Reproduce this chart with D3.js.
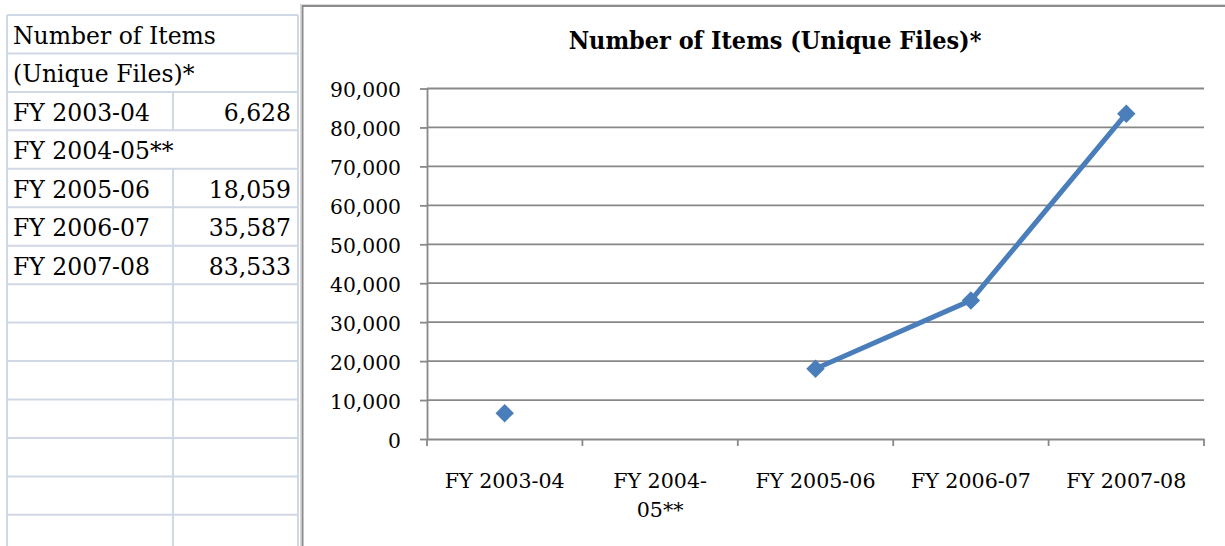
<!DOCTYPE html>
<html>
<head>
<meta charset="utf-8">
<script src="https://cdn.jsdelivr.net/npm/d3@7"></script>
<style>
  html, body { margin: 0; padding: 0; background: #fff; }
  svg { display: block; }
</style>
</head>
<body>
<svg id="chart" width="1225" height="546"></svg>
<script>
// ---- data ----
const categories = ["FY 2003-04", "FY 2004-05**", "FY 2005-06", "FY 2006-07", "FY 2007-08"];
const values = [6628, null, 18059, 35587, 83533];
const yTicks = [0, 10000, 20000, 30000, 40000, 50000, 60000, 70000, 80000, 90000];
const tableTitleLines = ["Number of Items", "(Unique Files)*"];
const chartTitle = "Number of Items (Unique Files)*";

// ---- layout ----
const W = 1225, H = 546;
const svg = d3.select("#chart");
const FONT = "'DejaVu Serif', 'Liberation Serif', serif";
const gridColor = "#888888";
const seriesColor = "#4a7ebb";

// ---------- spreadsheet table on the left ----------
const tbl = { left: 7, mid: 173, right: 298, top: 15, rowH: 38.45, rows: 14 };
const tableRows = [
  { label: tableTitleLines[0], span: true },
  { label: tableTitleLines[1], span: true }
].concat(categories.map((c, i) => ({ label: c, value: values[i], span: values[i] == null })));
while (tableRows.length < tbl.rows) tableRows.push({ label: "", span: false });

const tg = svg.append("g");
const lineCol = "#d0d7e5";
tg.selectAll("line.h").data(d3.range(tbl.rows + 1)).join("line")
  .attr("x1", tbl.left).attr("x2", tbl.right)
  .attr("y1", i => tbl.top + i * tbl.rowH).attr("y2", i => tbl.top + i * tbl.rowH)
  .attr("stroke", lineCol).attr("stroke-width", 2);
[tbl.left, tbl.right].forEach(xx => {
  tg.append("line").attr("x1", xx).attr("x2", xx).attr("y1", tbl.top).attr("y2", H)
    .attr("stroke", lineCol).attr("stroke-width", 2);
});
tableRows.forEach((r, i) => {
  if (!r.span) {
    tg.append("line").attr("x1", tbl.mid).attr("x2", tbl.mid)
      .attr("y1", tbl.top + i * tbl.rowH).attr("y2", tbl.top + (i + 1) * tbl.rowH)
      .attr("stroke", lineCol).attr("stroke-width", 2);
  }
});
const fmt = d3.format(",");
tableRows.forEach((r, i) => {
  const base = tbl.top + i * tbl.rowH + 29;
  if (r.label) {
    tg.append("text").attr("x", 13).attr("y", base)
      .attr("font-family", FONT).attr("font-size", 23.5).attr("fill", "#000")
      .text(r.label);
  }
  if (r.value != null) {
    tg.append("text").attr("x", 291).attr("y", base).attr("text-anchor", "end")
      .attr("font-family", FONT).attr("font-size", 23.5).attr("fill", "#000")
      .text(fmt(r.value));
  }
});

// ---------- chart frame ----------
svg.append("rect").attr("x", 300.5).attr("y", 4.5).attr("width", 1000).attr("height", 600)
  .attr("fill", "none").attr("stroke", "#d9d9d9").attr("stroke-width", 1);
svg.append("rect").attr("x", 302.5).attr("y", 6).attr("width", 1000).attr("height", 600)
  .attr("fill", "#fff").attr("stroke", "#8c8c8c").attr("stroke-width", 2);

// ---------- chart ----------
const plot = { left: 427, right: 1204, top: 88.5, bottom: 439 };
const x = d3.scaleBand().domain(categories).range([plot.left, plot.right]).padding(0);
const y = d3.scaleLinear().domain([0, 90000]).range([plot.bottom, plot.top]);

const cg = svg.append("g");

const title = cg.append("text").attr("x", 775).attr("y", 49.5).attr("text-anchor", "middle")
  .attr("font-family", FONT).attr("font-weight", "bold").attr("font-size", 24.5).attr("fill", "#000")
  .text(chartTitle);
function fitX(sel, target) {
  sel.each(function () {
    const w = this.getComputedTextLength();
    const s = target / w;
    const tx = +this.getAttribute("x"), ty = +this.getAttribute("y");
    this.setAttribute("transform", `translate(${tx},${ty}) scale(${s},1) translate(${-tx},${-ty})`);
  });
}
fitX(title, 413);

cg.append("g").selectAll("line").data(yTicks.filter(d => d > 0)).join("line")
  .attr("x1", plot.left).attr("x2", plot.right)
  .attr("y1", d => y(d)).attr("y2", d => y(d))
  .attr("stroke", gridColor).attr("stroke-width", 1.8);

const yAxis = cg.append("g").attr("transform", `translate(${plot.left},0)`)
  .call(d3.axisLeft(y).tickValues(yTicks).tickSize(7).tickSizeOuter(0).tickFormat(fmt));
yAxis.select(".domain").attr("stroke", gridColor).attr("stroke-width", 1.8);
yAxis.selectAll(".tick line").attr("stroke", gridColor).attr("stroke-width", 1.8);
yAxis.selectAll(".tick text").attr("x", -26).attr("dy", null).attr("y", 8)
  .attr("font-family", FONT).attr("font-size", 20.3).attr("fill", "#000");

const xAxis = cg.append("g").attr("transform", `translate(0,${plot.bottom})`)
  .call(d3.axisBottom(x).tickSize(0).tickSizeOuter(0));
xAxis.select(".domain").attr("stroke", gridColor).attr("stroke-width", 1.8);
xAxis.selectAll(".tick text").attr("y", 49).attr("dy", null)
  .attr("font-family", FONT).attr("font-size", 20.6).attr("fill", "#000");
const bounds = categories.map(c => x(c)).concat([x.range()[1]]);
xAxis.append("g").selectAll("line").data(bounds).join("line")
  .attr("x1", d => d).attr("x2", d => d).attr("y1", 0).attr("y2", 7)
  .attr("stroke", gridColor).attr("stroke-width", 1.8);
xAxis.selectAll(".tick text").each(function (d) {
  const t = d3.select(this);
  if (this.getComputedTextLength() > x.bandwidth() * 0.85) {
    const idx = d.lastIndexOf("-");
    const a = d.slice(0, idx + 1), b = d.slice(idx + 1);
    t.text(null);
    t.append("tspan").attr("x", 0).text(a);
    t.append("tspan").attr("x", 0).attr("dy", 28.7).text(b);
  }
});

const pts = categories.map((c, i) => ({ c, v: values[i] }));
const line = d3.line()
  .defined(d => d.v != null)
  .x(d => x(d.c) + x.bandwidth() / 2)
  .y(d => y(d.v));
cg.append("path").datum(pts).attr("d", line)
  .attr("fill", "none").attr("stroke", seriesColor).attr("stroke-width", 5)
  .attr("stroke-linejoin", "round");

const diamond = d3.symbol(d3.symbolSquare, 170);
cg.append("g").selectAll("path").data(pts.filter(d => d.v != null)).join("path")
  .attr("d", diamond)
  .attr("transform", d => `translate(${x(d.c) + x.bandwidth() / 2},${y(d.v)}) rotate(45)`)
  .attr("fill", seriesColor);
</script>
</body>
</html>
